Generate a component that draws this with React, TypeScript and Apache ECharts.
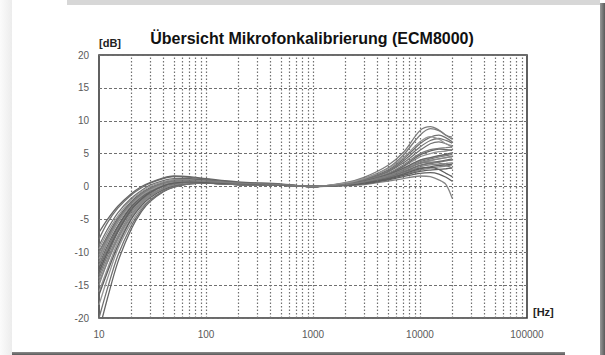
import React, { useEffect, useRef } from "react";
import * as echarts from "echarts";

const freqs = [10, 12, 15, 20, 25, 30, 40, 50, 70, 100, 200, 500, 1000, 2000, 3000, 5000, 7000, 10000, 12500, 15000, 17500, 20000];

const c01 = [-12, -9, -6, -3, -1.5, -0.6, 0.2, 0.5, 0.6, 0.5, 0.3, 0.2, 0, 0.3, 0.7, 1.5, 2.3, 3.2, 3.6, 3.8, 4.0, 4.2];
const c02 = [-14, -11, -7.5, -4, -2.2, -1.2, -0.2, 0.3, 0.5, 0.5, 0.3, 0.2, 0, 0.2, 0.5, 1.2, 1.8, 2.5, 2.8, 3.0, 3.1, 3.3];
const c03 = [-9, -6.5, -4, -1.8, -0.6, 0.2, 0.9, 1.2, 1.2, 1.0, 0.6, 0.3, 0, 0.4, 1.0, 2.2, 3.6, 5.5, 6.5, 6.8, 6.5, 6.0];
const c04 = [-16, -12.5, -8.5, -4.8, -2.7, -1.5, -0.4, 0.2, 0.5, 0.5, 0.3, 0.2, 0, 0.3, 0.8, 1.8, 3.0, 4.5, 5.0, 5.3, 5.4, 5.6];
const c05 = [-11, -8, -5, -2.4, -1.0, -0.2, 0.6, 1.0, 1.1, 0.9, 0.5, 0.3, 0, 0.2, 0.6, 1.4, 2.2, 2.8, 2.9, 2.6, 2.0, 1.5];
const c06 = [-13, -10, -6.5, -3.3, -1.7, -0.8, 0.1, 0.5, 0.7, 0.6, 0.4, 0.2, 0, 0.5, 1.2, 2.8, 4.8, 7.8, 8.8, 8.5, 7.8, 7.2];
const c07 = [-10, -7.5, -4.8, -2.3, -1.0, -0.3, 0.5, 0.8, 0.9, 0.8, 0.5, 0.3, 0, 0.3, 0.8, 1.7, 2.7, 3.8, 4.2, 4.5, 4.7, 4.9];
const c08 = [-15, -11.5, -7.8, -4.3, -2.4, -1.3, -0.3, 0.2, 0.5, 0.5, 0.3, 0.2, 0, 0.1, 0.3, 0.8, 1.2, 1.6, 1.5, 1.0, 0.3, -1.8];
const c09 = [-8, -5.5, -3.3, -1.3, -0.2, 0.5, 1.2, 1.5, 1.4, 1.1, 0.6, 0.3, 0, 0.4, 1.1, 2.5, 4.2, 6.5, 7.5, 7.8, 7.4, 6.8];
const c10 = [-18, -14, -9.5, -5.5, -3.2, -2.0, -0.7, 0, 0.4, 0.5, 0.3, 0.2, 0, 0.3, 0.7, 1.6, 2.6, 3.9, 4.3, 4.6, 4.8, 5.0];
const c11 = [-12.5, -9.5, -6.2, -3.1, -1.6, -0.7, 0.2, 0.6, 0.7, 0.6, 0.4, 0.2, 0, 0.2, 0.5, 1.1, 1.7, 2.3, 2.5, 2.6, 2.7, 2.8];
const c12 = [-11.5, -8.5, -5.5, -2.7, -1.2, -0.4, 0.4, 0.8, 0.9, 0.8, 0.5, 0.3, 0, 0.6, 1.4, 3.2, 5.2, 8.5, 9.1, 8.6, 7.8, 7.5];
const c13 = [-22, -17, -11.5, -6.5, -3.8, -2.3, -0.8, -0.1, 0.4, 0.5, 0.3, 0.2, 0, 0.3, 0.8, 1.9, 3.1, 4.8, 5.4, 5.7, 5.6, 5.5];
const c14 = [-10.5, -8, -5.2, -2.6, -1.2, -0.4, 0.4, 0.7, 0.8, 0.7, 0.4, 0.2, 0, 0.2, 0.6, 1.3, 2.0, 3.0, 3.3, 3.4, 3.5, 3.6];
const c15 = [-13.5, -10.5, -7, -3.7, -2.0, -1.0, 0, 0.4, 0.6, 0.6, 0.4, 0.2, 0, 0.4, 1.0, 2.3, 3.9, 6.0, 7.0, 7.3, 7.0, 6.6];
const c16 = [-9.5, -7, -4.5, -2, -0.8, 0, 0.7, 1.0, 1.0, 0.8, 0.5, 0.3, 0, 0.3, 0.7, 1.5, 2.4, 3.5, 3.9, 4.2, 4.4, 4.6];
const c17 = [-16.5, -13, -9, -5, -2.9, -1.7, -0.5, 0.1, 0.5, 0.5, 0.3, 0.2, 0, 0.2, 0.4, 1.0, 1.5, 2.0, 2.1, 1.9, 1.4, 0.8];
const c18 = [-12, -9.5, -6.5, -3.4, -1.8, -0.9, 0.1, 0.5, 0.7, 0.6, 0.4, 0.2, 0, 0.4, 0.9, 2.0, 3.3, 5.0, 5.6, 5.8, 5.9, 6.0];
const c19 = [-7, -5, -3, -1.1, 0, 0.6, 1.3, 1.6, 1.5, 1.2, 0.7, 0.4, 0, 0.3, 0.8, 1.8, 2.8, 4.0, 4.4, 4.7, 4.9, 5.1];
const c20 = [-14.5, -11.5, -8, -4.5, -2.5, -1.4, -0.3, 0.2, 0.5, 0.5, 0.3, 0.2, 0, 0.3, 0.7, 1.6, 2.5, 3.6, 4.0, 4.2, 4.4, 4.5];
const c21 = [-20, -15.5, -10.5, -6, -3.5, -2.1, -0.7, -0.1, 0.4, 0.5, 0.3, 0.2, 0, 0.2, 0.6, 1.4, 2.2, 3.2, 3.5, 3.7, 3.9, 4.0];
const c22 = [-11, -8.3, -5.4, -2.8, -1.4, -0.6, 0.3, 0.7, 0.8, 0.7, 0.4, 0.2, 0, 0.5, 1.2, 2.7, 4.4, 6.8, 7.6, 7.2, 6.5, 6.2];
const c23 = [-13, -10, -6.8, -3.5, -1.9, -0.9, 0.1, 0.5, 0.7, 0.6, 0.4, 0.2, 0, 0.2, 0.5, 1.2, 1.9, 2.7, 3.0, 3.2, 3.3, 3.4];
const c24 = [-10, -7.8, -5.0, -2.5, -1.1, -0.3, 0.5, 0.8, 0.9, 0.8, 0.5, 0.3, 0, 0.3, 0.7, 1.6, 2.5, 3.5, 3.7, 3.6, 3.2, 2.8];

const curves = [c01, c02, c03, c04, c05, c06, c07, c08, c09, c10, c11, c12, c13, c14, c15, c16, c17, c18, c19, c20, c21, c22, c23, c24];

const decades = [10, 100, 1000, 10000];
const multipliers = [1, 2, 3, 4, 5, 6, 7, 8, 9];

const yTicks = [-20, 20, 5];
const titleText = "Übersicht Mikrofonkalibrierung (ECM8000)";
const yUnit = "[dB]";
const xUnit = "[Hz]";

const shades = ["#666666", "#858585", "#727272", "#959595", "#5f5f5f", "#7d7d7d"];

export default function App() {
  const ref = useRef<HTMLDivElement>(null);

  useEffect(() => {
    document.body.style.margin = "0";
    if (!ref.current) return;
    const chart = echarts.init(ref.current, null, { renderer: "svg" });

    const gridLines: any[] = [];
    decades.forEach((d) =>
      multipliers.forEach((m) => {
        const v = d * m;
        if (v > 10) gridLines.push({ xAxis: v });
      })
    );

    const series: any[] = curves.map((c, k) => ({
      type: "line",
      data: freqs.map((f, i) => [f, c[i]]),
      showSymbol: false,
      smooth: 0.3,
      silent: true,
      clip: true,
      lineStyle: { width: 1.3, color: shades[k % shades.length] },
      z: 3,
    }));
    series.push({
      type: "line",
      data: [],
      silent: true,
      markLine: {
        silent: true,
        symbol: ["none", "none"],
        label: { show: false },
        lineStyle: { type: [1.5, 2], color: "#707070", width: 1.2 },
        data: gridLines,
        animation: false,
      },
      z: 1,
    });

    chart.setOption({
      animation: false,
      grid: {
        left: 99,
        top: 55,
        width: 428,
        height: 263,
        show: true,
        borderColor: "#3a3a3a",
        borderWidth: 1.6,
        backgroundColor: "transparent",
      },
      xAxis: {
        type: "log",
        logBase: 10,
        min: 10,
        max: 100000,
        axisLine: { show: false },
        axisTick: { show: false },
        splitLine: { show: false },
        axisLabel: {
          color: "#5a5a5a",
          fontSize: 10,
          fontFamily: "Liberation Sans",
          margin: 11,
          formatter: (v: number) => String(Math.round(v)),
        },
      },
      yAxis: {
        type: "value",
        min: yTicks[0],
        max: yTicks[1],
        interval: yTicks[2],
        axisLine: { show: false },
        axisTick: { show: false },
        splitLine: { show: true, lineStyle: { type: [3, 2], color: "#707070", width: 1.2 } },
        axisLabel: {
          color: "#5a5a5a",
          fontSize: 10,
          fontFamily: "Liberation Sans",
          margin: 10,
        },
      },
      graphic: [
        {
          type: "text",
          x: 312,
          y: 38,
          style: {
            text: titleText,
            textAlign: "center",
            textVerticalAlign: "middle",
            font: 'bold 16px "Liberation Sans"',
            fill: "#111",
          },
        },
        {
          type: "text",
          x: 99,
          y: 43,
          style: {
            text: yUnit,
            textAlign: "left",
            textVerticalAlign: "middle",
            font: 'bold 11px "Liberation Sans"',
            fill: "#222",
          },
        },
        {
          type: "text",
          x: 533,
          y: 312,
          style: {
            text: xUnit,
            textAlign: "left",
            textVerticalAlign: "middle",
            font: 'bold 11px "Liberation Sans"',
            fill: "#222",
          },
        },
      ],
      series,
    });
    return () => chart.dispose();
  }, []);

  return (
    <div style={{ position: "relative", width: 605, height: 355, overflow: "hidden", background: "#ffffff" }}>
      <div style={{ position: "absolute", left: 0, top: 0, width: 12, height: 355, background: "linear-gradient(to right, #fbfbfb, #ececec)" }} />
      <div style={{ position: "absolute", left: 67, top: 0, width: 533, height: 5, background: "#d7d7d7" }} />
      <div style={{ position: "absolute", left: 600, top: 3, width: 5, height: 352, background: "linear-gradient(to right, #9a9a9a, #5a5a5a)" }} />
      <div style={{ position: "absolute", left: 12, top: 352, width: 553, height: 3, background: "linear-gradient(to bottom, #8a8a8a, #5a5a5a)" }} />
      <div ref={ref} style={{ position: "absolute", left: 0, top: 0, width: 605, height: 355 }} />
    </div>
  );
}
